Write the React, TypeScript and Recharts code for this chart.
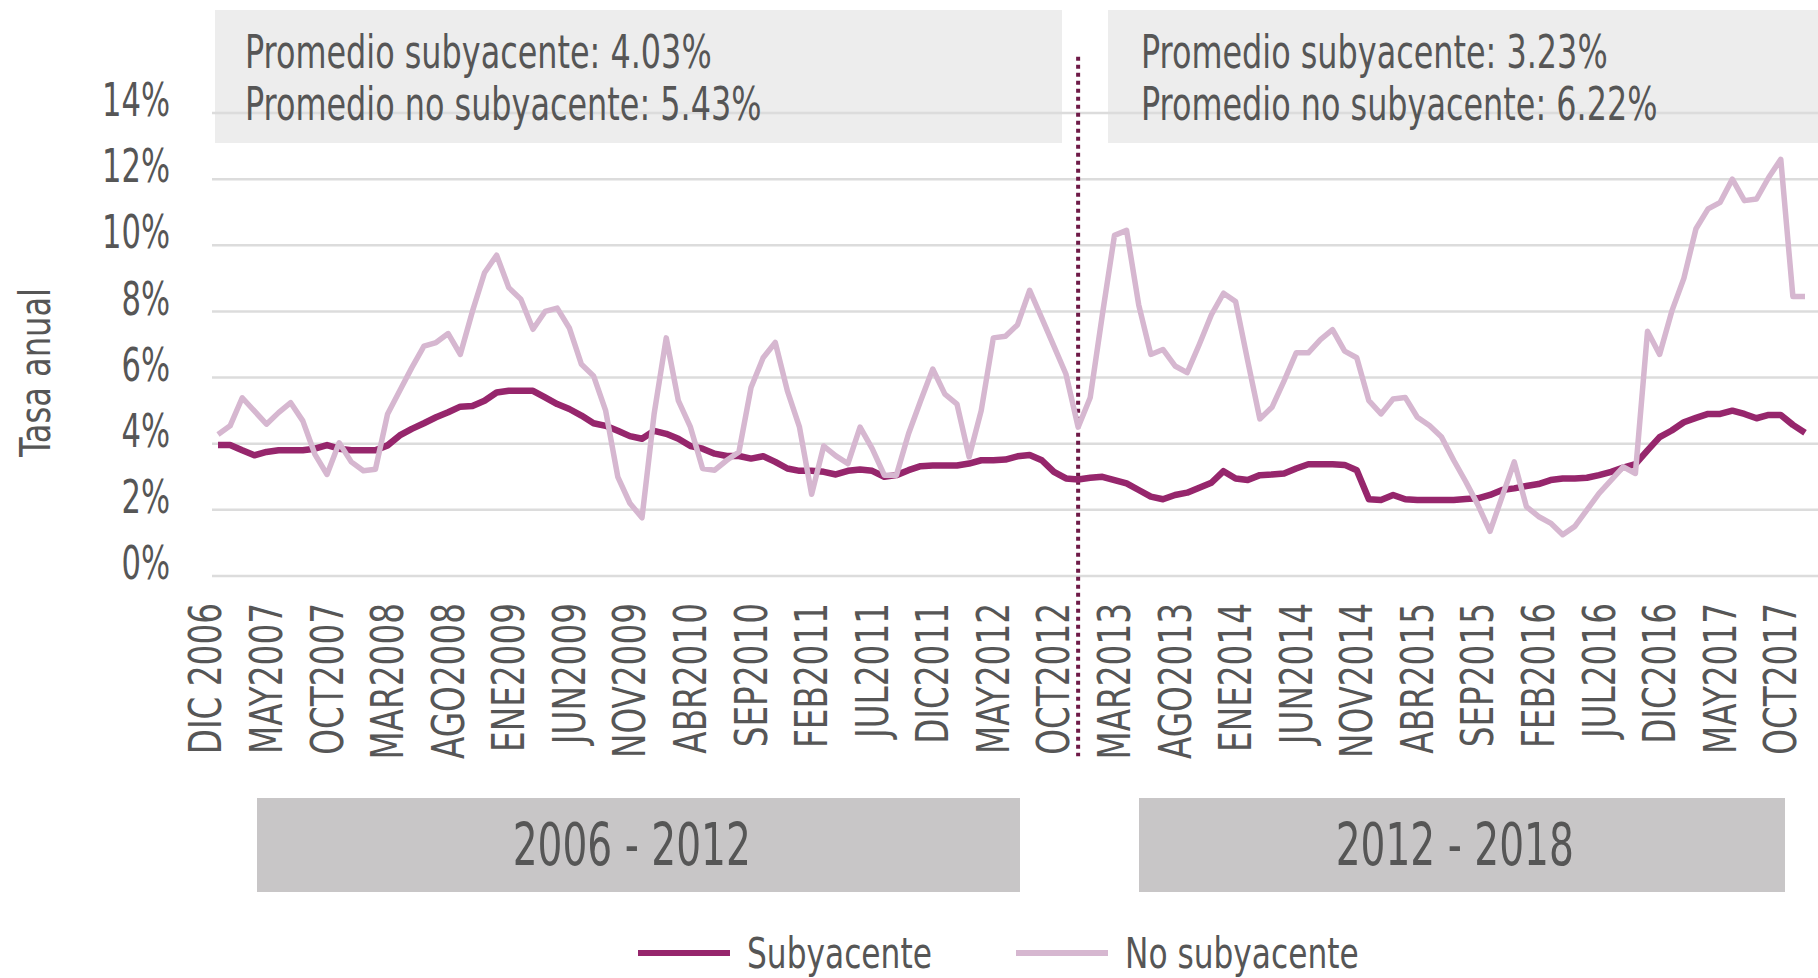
import React from 'react';
import { LineChart, Line, XAxis, YAxis, CartesianGrid, ReferenceLine } from 'recharts';

// ---------- data ----------
const MONTHS = ['ENE', 'FEB', 'MAR', 'ABR', 'MAY', 'JUN', 'JUL', 'AGO', 'SEP', 'OCT', 'NOV', 'DIC'];
const FIRST_YEAR = 2006;
const FIRST_MONTH = 11; // DIC

const SUBYACENTE = [
  3.96, 3.96, 3.8, 3.65, 3.75, 3.8, 3.8, 3.8, 3.85, 3.96, 3.85, 3.8, 3.8, 3.8, 3.95, 4.25, 4.45, 4.62, 4.8, 4.95,
  5.12, 5.14, 5.3, 5.55, 5.6, 5.6, 5.6,
  5.4, 5.2, 5.05, 4.85, 4.62, 4.54, 4.39, 4.23, 4.15, 4.39, 4.3, 4.15, 3.93, 3.85, 3.7, 3.63, 3.63, 3.55, 3.62, 3.45,
  3.25, 3.18, 3.18, 3.15, 3.07, 3.18,
  3.22, 3.18, 3.0, 3.05, 3.2, 3.32, 3.34, 3.34, 3.34, 3.4, 3.5, 3.5, 3.52, 3.62, 3.66, 3.5, 3.15, 2.95, 2.92, 2.97,
  3.0, 2.9, 2.8, 2.6, 2.4, 2.32, 2.45,
  2.52, 2.67, 2.82, 3.17, 2.95, 2.9, 3.05, 3.07, 3.1, 3.25, 3.38, 3.38, 3.38, 3.36, 3.2, 2.32, 2.3, 2.45, 2.32, 2.3,
  2.3, 2.3, 2.3, 2.33, 2.35, 2.45, 2.6, 2.65, 2.72, 2.78, 2.9, 2.95, 2.95, 2.97, 3.05, 3.15, 3.28, 3.38, 3.8, 4.2,
  4.4, 4.65, 4.78, 4.9, 4.9, 5.0, 4.9, 4.77, 4.87, 4.87, 4.57, 4.33,
];

const NO_SUBYACENTE = [
  4.28, 4.54, 5.39, 4.99, 4.59, 4.94, 5.24, 4.69, 3.68, 3.07, 4.03, 3.45, 3.18, 3.23, 4.9, 5.6, 6.3, 6.95, 7.06, 7.33,
  6.7, 8.0, 9.17, 9.7, 8.72, 8.37, 7.46, 8.0, 8.1, 7.5, 6.4, 6.05, 5.0, 3.0, 2.2, 1.76, 4.9, 7.2, 5.3, 4.5,
  3.25, 3.2, 3.5, 3.75, 5.7, 6.6, 7.06, 5.6, 4.5, 2.47, 3.93, 3.63, 3.4,
  4.5, 3.85, 3.05, 3.05, 4.3, 5.3, 6.26, 5.5, 5.2, 3.6, 5.0, 7.2, 7.25, 7.6, 8.64, 7.8, 6.95, 6.1, 4.5, 5.4,
  7.9, 10.3, 10.45, 8.2, 6.7, 6.85, 6.35,
  6.15, 7.0, 7.9, 8.55, 8.3, 6.5, 4.75, 5.1, 5.9, 6.75, 6.75, 7.15, 7.45, 6.8, 6.6, 5.3, 4.9, 5.35, 5.4, 4.8,
  4.55, 4.2, 3.5, 2.85, 2.15, 1.35, 2.4, 3.45, 2.1, 1.8, 1.6, 1.25, 1.5, 2.0, 2.5, 2.9, 3.3, 3.1, 7.4, 6.7,
  8.0, 9.0, 10.5, 11.1, 11.3, 12.0, 11.35, 11.4, 12.05, 12.6, 8.45, 8.45,
];

const CATEGORIES = SUBYACENTE.map((_, i) => {
  const m = (FIRST_MONTH + i) % 12;
  const y = FIRST_YEAR + Math.floor((FIRST_MONTH + i) / 12);
  return i === 0 ? `${MONTHS[m]} ${y}` : `${MONTHS[m]}${y}`;
});

const Y_TICKS = [0, 2, 4, 6, 8, 10, 12, 14];
const SPLIT_INDEX = 71;
const PERIOD_LABELS = ['2006 - 2012', '2012 - 2018'];
const AVG_SUB = ['4.03%', '3.23%'];
const AVG_NOSUB = ['5.43%', '6.22%'];

const SERIES = [
  { key: 'sub', name: 'Subyacente', color: '#96266c', width: 6.5 },
  { key: 'noSub', name: 'No subyacente', color: '#d6b7d0', width: 5.5 },
];

const DATA = CATEGORIES.map((m, i) => ({ m, sub: SUBYACENTE[i], noSub: NO_SUBYACENTE[i] }));

// ---------- styles ----------
const FONT = "'Liberation Sans Narrow', 'Arial Narrow', 'DejaVu Sans Condensed', 'Roboto Condensed', sans-serif";
const TEXT = '#565656';

const XTick = (props: any) => {
  const { x, y, payload } = props;
  const tx = x - 12;
  const ty = y + 27;
  return (
    <text
      transform={`translate(${tx}, ${ty}) rotate(-90) scale(0.826, 1)`}
      textAnchor="end"
      dy="0.35em"
      fontFamily={FONT}
      fontSize={44}
      fill={TEXT}
    >
      {payload.value}
    </text>
  );
};

const YTick = (props: any) => {
  const { x, y, payload } = props;
  return (
    <text
      transform={`translate(${x}, ${y - 13}) scale(0.74, 1)`}
      dy="0.35em"
      textAnchor="end"
      fontFamily={FONT}
      fontSize={46}
      fill={TEXT}
    >
      {`${payload.value}%`}
    </text>
  );
};

const YTitle = (props: any) => {
  const vb = props.viewBox || {};
  const cx = vb.x - 27;
  const cy = vb.y + vb.height / 2 + 28;
  return (
    <text
      transform={`translate(${cx}, ${cy}) rotate(-90) scale(0.85, 1)`}
      textAnchor="middle"
      dy="0.35em"
      fontFamily={FONT}
      fontSize={42}
      fill={TEXT}
    >
      Tasa anual
    </text>
  );
};

const boxText: React.CSSProperties = {
  position: 'absolute',
  fontFamily: FONT,
  fontSize: 46,
  lineHeight: '52px',
  color: TEXT,
  whiteSpace: 'nowrap',
  transform: 'scaleX(0.77)',
  transformOrigin: 'left top',
};

export default function App() {
  return (
    <div
      style={{
        position: 'fixed',
        left: 0,
        top: 0,
        width: 1818,
        height: 978,
        background: '#ffffff',
        overflow: 'hidden',
      }}
    >
      {/* average boxes (behind the grid) */}
      <div style={{ position: 'absolute', left: 215, top: 10, width: 847, height: 133, background: '#ededed' }} />
      <div style={{ position: 'absolute', left: 1108, top: 10, width: 710, height: 133, background: '#ededed' }} />

      <div style={{ position: 'absolute', left: 0, top: 0 }}>
        <LineChart width={1818} height={978} data={DATA} margin={{ top: 113, right: 0, bottom: 252, left: 62 }}>
          <CartesianGrid vertical={false} stroke="#dcdcdc" strokeWidth={2.5} />
          <XAxis
            dataKey="m"
            interval={4}
            tick={<XTick />}
            tickLine={false}
            axisLine={false}
            tickSize={0}
            tickMargin={0}
            height={150}
            padding={{ left: 6, right: 13 }}
          />
          <YAxis
            domain={[0, 14]}
            ticks={Y_TICKS}
            tick={<YTick />}
            axisLine={false}
            tickLine={false}
            tickSize={0}
            tickMargin={42}
            width={150}
            label={(p: any) => <YTitle {...p} />}
          />
          <ReferenceLine
            segment={[
              { x: CATEGORIES[SPLIT_INDEX], y: 15.7 },
              { x: CATEGORIES[SPLIT_INDEX], y: -5.45 },
            ]}
            ifOverflow="visible"
            stroke="#6e1a47"
            strokeWidth={4}
            strokeDasharray="4 4"
          />
          {SERIES.map((s) => (
            <Line
              key={s.key}
              type="linear"
              dataKey={s.key}
              name={s.name}
              stroke={s.color}
              strokeWidth={s.width}
              dot={false}
              activeDot={false}
              strokeLinejoin="round"
              isAnimationActive={false}
            />
          ))}
        </LineChart>
      </div>

      {/* average texts */}
      <div style={{ ...boxText, left: 245, top: 26 }}>
        <div>{`Promedio subyacente: ${AVG_SUB[0]}`}</div>
        <div>{`Promedio no subyacente: ${AVG_NOSUB[0]}`}</div>
      </div>
      <div style={{ ...boxText, left: 1141, top: 26 }}>
        <div>{`Promedio subyacente: ${AVG_SUB[1]}`}</div>
        <div>{`Promedio no subyacente: ${AVG_NOSUB[1]}`}</div>
      </div>

      {/* period bars */}
      {[
        { left: 257, width: 763 },
        { left: 1139, width: 646 },
      ].map((b, i) => (
        <div
          key={i}
          style={{
            position: 'absolute',
            left: b.left,
            top: 798,
            width: b.width,
            height: 94,
            background: '#c8c6c7',
            display: 'flex',
            alignItems: 'center',
            justifyContent: 'center',
            boxSizing: 'border-box',
            paddingRight: 14,
            fontFamily: FONT,
            fontSize: 58,
            color: TEXT,
          }}
        >
          <span style={{ display: 'inline-block', transform: 'scaleX(0.75)', whiteSpace: 'nowrap' }}>
            {PERIOD_LABELS[i]}
          </span>
        </div>
      ))}

      {/* legend */}
      {SERIES.map((s, i) => (
        <div
          key={s.key}
          style={{
            position: 'absolute',
            left: i === 0 ? 638 : 1016,
            top: 953,
            transform: 'translateY(-50%)',
            display: 'flex',
            alignItems: 'center',
            fontFamily: FONT,
            fontSize: 43,
            color: TEXT,
            whiteSpace: 'nowrap',
          }}
        >
          <div style={{ width: 92, height: 6, background: s.color, marginRight: 17 }} />
          <span style={{ display: 'inline-block', transform: 'scaleX(0.808)', transformOrigin: 'left center' }}>
            {s.name}
          </span>
        </div>
      ))}
    </div>
  );
}
